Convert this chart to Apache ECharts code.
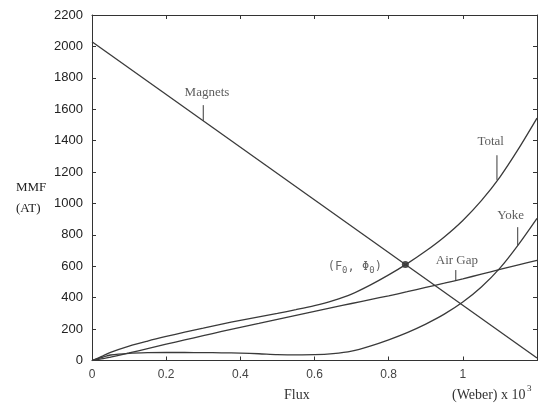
<!DOCTYPE html>
<html>
<head>
<meta charset="utf-8">
<script src="https://cdn.jsdelivr.net/npm/echarts@6/dist/echarts.min.js"></script>
<style>html,body{margin:0;padding:0;background:#fff}#c{width:546px;height:404px}</style>
</head>
<body>
<div id="c"></div>
<script>
// ---- data ----
var flux = [0, 0.03, 0.05, 0.1, 0.15, 0.2, 0.25, 0.3, 0.35, 0.4, 0.45, 0.5, 0.55, 0.6, 0.65, 0.7, 0.75, 0.8, 0.85, 0.9, 0.95, 1.0, 1.05, 1.1, 1.15, 1.2];
var totalMMF = [0, 30, 52, 92, 124, 153, 180, 206, 232, 256, 278, 300, 324, 350, 382, 423, 480, 545, 617, 697, 787, 892, 1018, 1168, 1347, 1543];
var airGapMMF = [0, 12, 22, 48, 76, 104, 131, 158, 185, 211, 236, 262, 288, 313, 338, 363, 388, 412, 438, 465, 492, 520, 550, 580, 609, 638];
var yokeMMF = [0, 22, 35, 46, 50, 51, 51, 50, 49, 47, 43, 38, 36, 37, 44, 60, 92, 132, 178, 232, 295, 372, 468, 588, 738, 905];
var magnetFlux = [0, 1.2];
var magnetMMF = [2030, 16];
var operatingPoint = [0.845, 611];
var xTicks = [0, 0.2, 0.4, 0.6, 0.8, 1];
var yTicks = [0, 200, 400, 600, 800, 1000, 1200, 1400, 1600, 1800, 2000, 2200];
// annotation: name, pointer x, pointer y start, pointer y end, label x, label y
var annNames = ['Magnets', 'Total', 'Yoke', 'Air Gap'];
var annX = [0.30, 1.092, 1.148, 0.981];
var annY0 = [1527, 1150, 735, 512];
var annY1 = [1626, 1307, 849, 576];
var annLabelX = [0.31, 1.075, 1.129, 0.984];
var annLabelY = [1708, 1397, 925, 639];

function pairs(xs, ys) { return xs.map(function (x, i) { return [x, ys[i]]; }); }

var curveColor = '#3a3a3a';
var series = [
  { name: 'Total', type: 'line', data: pairs(flux, totalMMF), smooth: 0.3, symbol: 'none', lineStyle: { color: curveColor, width: 1.3 } },
  { name: 'Air Gap', type: 'line', data: pairs(flux, airGapMMF), smooth: 0.3, symbol: 'none', lineStyle: { color: curveColor, width: 1.3 } },
  { name: 'Yoke', type: 'line', data: pairs(flux, yokeMMF), smooth: 0.3, symbol: 'none', lineStyle: { color: curveColor, width: 1.3 } },
  { name: 'Magnets', type: 'line', data: pairs(magnetFlux, magnetMMF), symbol: 'none', lineStyle: { color: curveColor, width: 1.3 } },
  { name: 'op', type: 'scatter', data: [operatingPoint], symbol: 'circle', symbolSize: 7,
    itemStyle: { color: '#222' },
    label: { show: true, position: 'left', distance: 20, offset: [0, 2], color: '#444',
      formatter: '{a|(F}{s|0}{a|, Φ}{s|0}{a|)}',
      rich: { a: { fontFamily: 'DejaVu Sans Mono', fontSize: 12, color: '#444' }, s: { fontFamily: 'DejaVu Sans Mono', fontSize: 9, color: '#444', padding: [8, 0, 0, 0] } } } }
];
annNames.forEach(function (n, i) {
  series.push({ type: 'line', data: [[annX[i], annY0[i]], [annX[i], annY1[i]]], symbol: 'none', lineStyle: { color: curveColor, width: 1 }, silent: true });
  series.push({ type: 'scatter', data: [[annLabelX[i], annLabelY[i]]], symbolSize: 1, itemStyle: { color: 'transparent' }, silent: true,
    label: { show: true, position: 'inside', formatter: n, fontFamily: 'Liberation Serif', fontSize: 13, color: '#333' } });
});

function axisCommon() {
  return {
    type: 'value',
    axisLine: { show: true, onZero: false, lineStyle: { color: '#333', width: 1 } },
    axisTick: { show: true, inside: true, length: 4, lineStyle: { color: '#333' } },
    splitLine: { show: false }
  };
}

var chart = echarts.init(document.getElementById('c'), null, { renderer: 'canvas' });
chart.setOption({
  animation: false,
  backgroundColor: '#fff',
  grid: { left: 92, right: 9, top: 15, bottom: 43.5, containLabel: false, outerBoundsMode: 'none' },
  xAxis: [
    Object.assign(axisCommon(), { position: 'bottom', min: 0, max: 1.2, interval: 0.2,
      axisLabel: { margin: 8, fontFamily: 'Liberation Sans', fontSize: 12, color: '#444',
        formatter: function (v) { var t = xTicks.filter(function (x) { return Math.abs(x - v) < 1e-9; }); return t.length ? String(t[0]) : ''; } } }),
    Object.assign(axisCommon(), { position: 'top', min: 0, max: 1.2, interval: 0.2, axisLabel: { show: false } })
  ],
  yAxis: [
    Object.assign(axisCommon(), { position: 'left', min: 0, max: 2200, interval: 200,
      axisLabel: { margin: 9, fontFamily: 'Liberation Sans', fontSize: 13, color: '#222',
        formatter: function (v) { return yTicks.indexOf(v) >= 0 ? String(v) : ''; } } }),
    Object.assign(axisCommon(), { position: 'right', min: 0, max: 2200, interval: 200, axisLabel: { show: false } })
  ],
  series: series,
  graphic: [
    { type: 'text', left: 16, top: 181, style: { text: 'MMF', font: '13px "Liberation Serif"', fill: '#222' } },
    { type: 'text', left: 16, top: 202, style: { text: '(AT)', font: '13px "Liberation Serif"', fill: '#222' } },
    { type: 'text', left: 284, top: 388, style: { text: 'Flux', font: '14px "Liberation Serif"', fill: '#333' } },
    { type: 'text', left: 452, top: 388, style: { text: '(Weber) x 10', font: '14px "Liberation Serif"', fill: '#333' } },
    { type: 'text', left: 527, top: 384, style: { text: '3', font: '9px "Liberation Serif"', fill: '#333' } }
  ]
});
</script>
</body>
</html>
